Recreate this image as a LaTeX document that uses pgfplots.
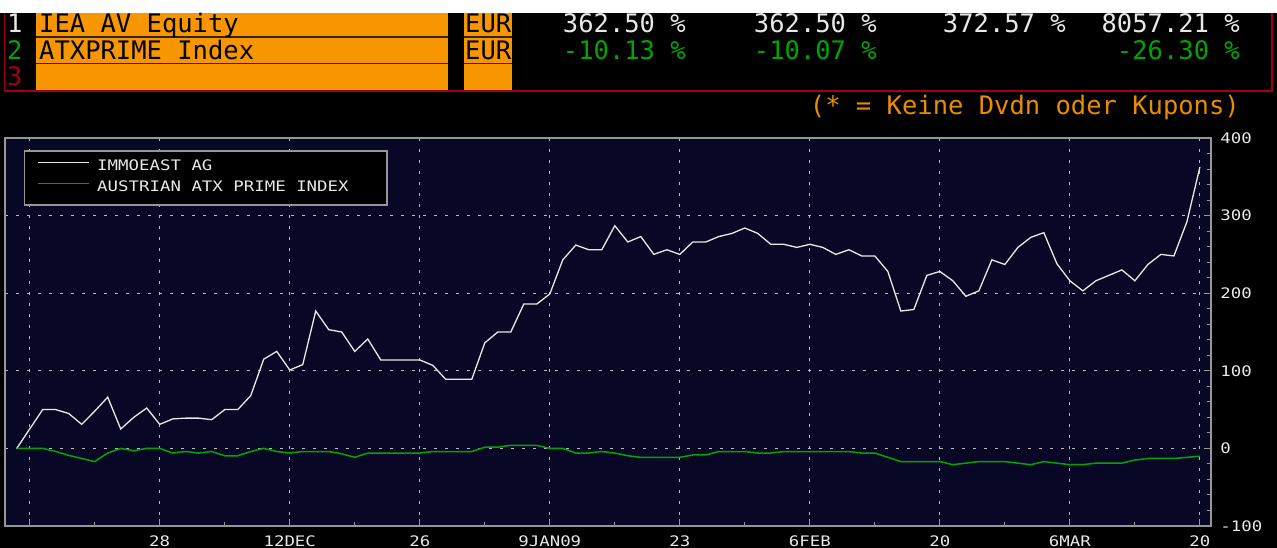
\documentclass[border=0pt]{standalone}
\usepackage{fontspec}
\usepackage{pgfplots}
\pgfplotsset{compat=1.18}
\usepackage{pgfplotstable}

\newfontfamily\termfont{DejaVu Sans Mono}
\newfontfamily\pixfont[FakeStretch=1.2]{DejaVu Sans Mono}

\definecolor{bbnavy}{RGB}{8,8,38}
\definecolor{bborange}{RGB}{248,150,0}
\definecolor{bbgreen}{RGB}{0,165,0}
\definecolor{bbred}{RGB}{160,0,20}
\definecolor{bbgray}{RGB}{150,150,150}
\definecolor{bbtext}{RGB}{232,232,232}
\definecolor{bbnote}{RGB}{232,140,0}
\definecolor{bbsep}{RGB}{50,35,0}

% x = trading day, 0 = 14 Nov 2008, 90 = 20 Mar 2009
\pgfplotstableread{
d v
-1 0
0 25
1 50
2 50
3 45
4 31
5 48
6 66
7 25
8 40
9 52
10 31
11 38
12 39
13 39
14 37
15 50
16 50
17 68
18 115
19 125
20 101
21 108
22 177
23 153
24 150
25 125
26 141
27 114
28 114
29 114
30 114
31 107
32 89
33 89
34 89
35 136
36 150
37 150
38 186
39 186
40 199
41 243
42 262
43 256
44 256
45 287
46 266
47 273
48 250
49 256
50 250
51 266
52 266
53 273
54 277
55 284
56 277
57 263
58 263
59 259
60 263
61 259
62 250
63 256
64 248
65 248
66 228
67 177
68 179
69 223
70 228
71 216
72 196
73 203
74 243
75 237
76 259
77 272
78 278
79 238
80 216
81 203
82 216
83 223
84 230
85 216
86 237
87 250
88 248
89 292
90 362.5
}\immoeast

\pgfplotstableread{
d v
-1 0
0 0
1 0
2 -4
3 -9
4 -13
5 -17
6 -6
7 0
8 -3
9 0
10 0
11 -6
12 -4
13 -6
14 -4
15 -9.5
16 -9.5
17 -4
18 0
19 -4
20 -6
21 -4
22 -4
23 -4
24 -7
25 -11.5
26 -6
27 -6
28 -6
29 -6
30 -6
31 -4
32 -4
33 -4
34 -4
35 1.5
36 1.5
37 4
38 4
39 4
40 0
41 0
42 -6
43 -6
44 -4
45 -6
46 -9.5
47 -11.5
48 -11.5
49 -11.5
50 -11.5
51 -8.5
52 -8.5
53 -4
54 -4
55 -4
56 -6
57 -6
58 -4
59 -4
60 -4
61 -4
62 -4
63 -4
64 -6
65 -6
66 -11.5
67 -17
68 -17
69 -17
70 -17
71 -21
72 -19
73 -17
74 -17
75 -17
76 -19
77 -21
78 -17
79 -19
80 -21
81 -21
82 -19
83 -19
84 -19
85 -15
86 -13
87 -13
88 -13
89 -11.5
90 -10.1
}\atxprime

\begin{document}
\begin{tikzpicture}
\begin{scope}[x=1pt,y=1pt]
  % screen background
  \fill[black] (0,0) rectangle (1277,535);
  \fill[white] (0,535) rectangle (1277,548);
  % header cells
  \fill[bborange] (36,457) rectangle (448,535);
  \fill[bborange] (464,457) rectangle (512,535);
  \draw[bbsep, line width=1.5] (36,511) -- (448,511) (464,511) -- (512,511);
  \draw[bbsep, line width=1.5] (36,484.5) -- (448,484.5) (464,484.5) -- (512,484.5);
  \draw[bbred, line width=1.2] (4.5,535) -- (4.5,457) -- (1272,457) -- (1272,535);
  \begin{scope}[every node/.style={inner sep=0pt, font=\termfont\fontsize{25.5}{28}\selectfont}]
    \node[anchor=base west, text=bbtext] at (7,515) {1};
    \node[anchor=base west, text=bbgreen] at (7,488) {2};
    \node[anchor=base west, text=bbred] at (7,462) {3};
    \node[anchor=base west, text=black] at (39,515) {IEA AV Equity};
    \node[anchor=base west, text=black] at (39,488) {ATXPRIME Index};
    \node[anchor=base west, text=black] at (465,515) {EUR};
    \node[anchor=base west, text=black] at (465,488) {EUR};
    \node[anchor=base east, text=bbtext] at (686,515) {362.50 \%};
    \node[anchor=base east, text=bbtext] at (877,515) {362.50 \%};
    \node[anchor=base east, text=bbtext] at (1066,515) {372.57 \%};
    \node[anchor=base east, text=bbtext] at (1240,515) {8057.21 \%};
    \node[anchor=base east, text=bbgreen] at (686,488) {-10.13 \%};
    \node[anchor=base east, text=bbgreen] at (877,488) {-10.07 \%};
    \node[anchor=base east, text=bbgreen] at (1240,488) {-26.30 \%};
    \node[anchor=base east, text=bbnote] at (1240,433) {(* = Keine Dvdn oder Kupons)};
  \end{scope}
\end{scope}

\begin{axis}[
  at={(5pt,22pt)}, anchor=south west,
  scale only axis, width=1206pt, height=388pt,
  xmin=-1.9, xmax=90.85, ymin=-100, ymax=400,
  axis background/.style={fill=bbnavy},
  axis line style={bbgray, line width=1.5pt},
  xtick={0,10,...,90},
  xticklabels={,28,12DEC,26,9JAN09,23,6FEB,20,6MAR,20},
  minor x tick num=1,
  ytick={-100,0,100,200,300,400},
  yticklabels={-100,0,100,200,300,400},
  minor y tick num=4,
  xtick pos=left, ytick pos=right,
  yticklabel pos=right,
  tick align=inside,
  major tick length=7pt, minor tick length=4pt,
  tick style={bbgray, line width=1pt},
  grid=major,
  major grid style={dash pattern=on 3pt off 8pt, line width=1.2pt, color=bbtext!80!black},
  ticklabel style={font=\pixfont\fontsize{14.5}{14.5}\selectfont, text=bbtext},
  yticklabel style={xshift=6pt},
  xticklabel style={yshift=-6pt},
  legend style={at={(0.01575,0.969)}, anchor=north west,
    fill=black, draw=bbgray, line width=1.5pt,
    inner xsep=13pt, inner ysep=10pt, row sep=8pt, column sep=7pt,
    nodes={inner sep=0pt, text height=10pt, text depth=3pt},
    font=\pixfont\fontsize{14.5}{14.5}\selectfont, text=bbtext},
  legend cell align=left,
  legend image code/.code={\draw[#1, line width=1.5pt] (0pt,5pt) -- (51pt,5pt);},
]
\addplot[color=bbtext, line width=1.3pt] table[x=d, y=v] {\immoeast};
\addlegendentry{\makebox[277pt][l]{IMMOEAST AG}}
\addplot[color=bbgreen, line width=1.5pt] table[x=d, y=v] {\atxprime};
\addlegendentry{\makebox[277pt][l]{AUSTRIAN ATX PRIME INDEX}}
\end{axis}
\pgfresetboundingbox
\useasboundingbox (0pt,0pt) rectangle (1277pt,548pt);
\end{tikzpicture}
\end{document}
